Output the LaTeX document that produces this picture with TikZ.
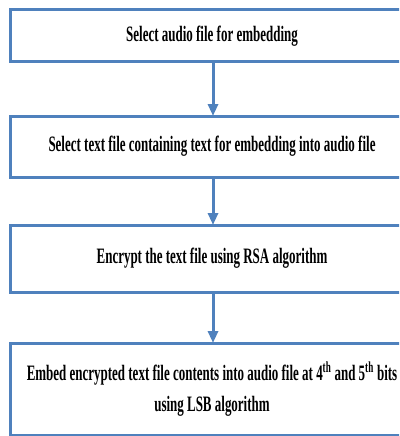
\documentclass[tikz,border=0pt]{standalone}
\usepackage{fontspec}
\newfontfamily\stepfont[FakeStretch=0.59]{Liberation Serif}
\usepackage{tikz}
\usetikzlibrary{positioning,arrows.meta}
\definecolor{boxblue}{RGB}{79,129,189}
\tikzstyle{stage}=[line width=3pt,minimum width=400pt,inner sep=0pt,align=center,font=\stepfont\bfseries\fontsize{22}{31}\selectfont]
\tikzstyle{border}=[draw=boxblue,line width=3pt]
\tikzstyle{flow}=[draw=boxblue,line width=3pt,-{Triangle[width=10pt,length=12pt]}]

\begin{document}
\begin{tikzpicture}[x=1pt,y=-1pt]
            \useasboundingbox (0,0) rectangle (399,436);
            \clip (0,0) rectangle (399,436);
            \node[stage,minimum height=49pt] (audio) at (212,36) {Select audio file for embedding};
            \node[stage,minimum height=58pt,below=54pt of audio] (text) {Select text file containing text for embedding into audio file};
            \node[stage,minimum height=64pt,below=48pt of text] (encrypt) {Encrypt the text file using RSA algorithm};
            \node[stage,minimum height=89pt,below=51pt of encrypt] (embed) {Embed encrypted text file contents into audio file at 4\textsuperscript{th} and 5\textsuperscript{th} bits\\using LSB algorithm};
            % boxes run off the right edge
            \foreach \n in {audio,text,encrypt,embed}
                \draw[border] (\n.north east) -- (\n.north west) -- (\n.south west) -- (\n.south east);
            \draw[flow] (audio.south -| 213,0) -- (text.north -| 213,0);
            \draw[flow] (text.south -| 213,0) -- (encrypt.north -| 213,0);
            \draw[flow] (encrypt.south -| 213,0) -- (embed.north -| 213,0);
        \end{tikzpicture}
\end{document}
